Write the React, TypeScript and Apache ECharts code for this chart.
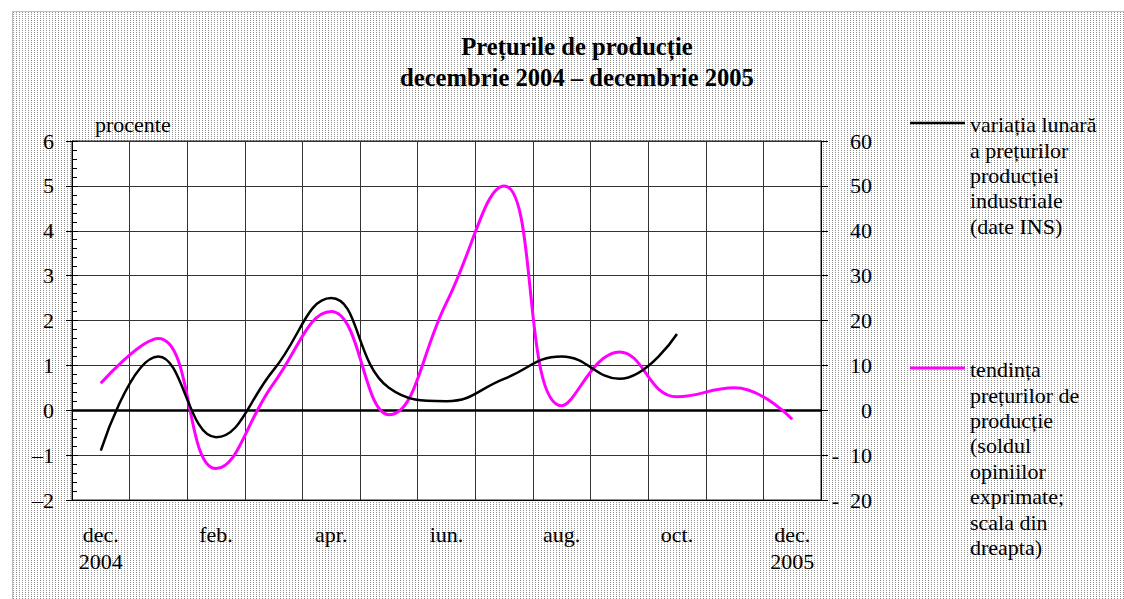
import React, { useEffect, useRef } from "react";
import * as echarts from "echarts";

const categories = ["dec.\n2004", "ian.", "feb.", "mar.", "apr.", "mai", "iun.", "iul.", "aug.", "sep.", "oct.", "nov.", "dec.\n2005"];
const monthlyVariation: (number | null)[] = [-0.9, 1.2, -0.6, 0.9, 2.5, 0.5, 0.2, 0.7, 1.2, 0.7, 1.7, null, null];
const priceTrend = [6, 16, -13, 6, 22, -1, 24, 50, 1, 13, 3, 5, -2];

const titleText = "Prețurile de producție\ndecembrie 2004 – decembrie 2005";
const unitText = "procente";
const legendBlack = "variația lunară\na prețurilor\nproducției\nindustriale\n(date INS)";
const legendPink = "tendința\nprețurilor de\nproducție\n(soldul\nopiniilor\nexprimate;\nscala din\ndreapta)";

const FONT = '"Liberation Serif", "Times New Roman", serif';
const FS = 22;

const patternSvg =
  "url(\"data:image/svg+xml,%3Csvg xmlns='http://www.w3.org/2000/svg' width='3' height='2'%3E%3Crect width='1' height='1' fill='%23909090'/%3E%3C/svg%3E\")";

export default function App() {
  const ref = useRef<HTMLDivElement>(null);
  useEffect(() => {
    if (!ref.current) return;
    const chart = echarts.init(ref.current, undefined, { renderer: "svg" });
    const axisText = { color: "#000", fontFamily: FONT, fontSize: FS };
    chart.setOption({
      animation: false,
      backgroundColor: "transparent",
      title: {
        text: titleText,
        left: 572,
        top: 26,
        textAlign: "center",
        textStyle: { fontFamily: FONT, fontSize: 24.6, fontWeight: "bold", color: "#000", lineHeight: 31 },
      },
      grid: {
        left: 72,
        right: 303,
        top: 141,
        bottom: 99,
        show: true,
        backgroundColor: "#fff",
        borderColor: "#222",
        borderWidth: 1,
        containLabel: false,
      },
      xAxis: {
        type: "category",
        data: categories,
        boundaryGap: true,
        axisLine: { show: true, onZero: false, lineStyle: { color: "#000", width: 1 } },
        axisTick: { show: false },
        splitLine: { show: true, interval: 0, lineStyle: { color: "#333", width: 1 } },
        axisLabel: { ...axisText, interval: 1, margin: 21, lineHeight: 27 },
      },
      yAxis: [
        {
          type: "value",
          position: "left",
          min: -2,
          max: 6,
          interval: 1,
          axisLine: { show: true, lineStyle: { color: "#000", width: 1 } },
          axisTick: { show: true, inside: false, length: 6, lineStyle: { color: "#000" } },
          splitLine: { show: true, lineStyle: { color: "#333", width: 1 } },
          axisLabel: {
            ...axisText,
            margin: 18,
            formatter: (v: number) => (v < 0 ? "–" + Math.abs(v) : String(v)),
          },
        },
        {
          type: "value",
          position: "right",
          min: -20,
          max: 60,
          interval: 10,
          axisLine: { show: true, lineStyle: { color: "#000", width: 1 } },
          axisTick: { show: true, inside: false, length: 7, lineStyle: { color: "#000" } },
          splitLine: { show: false },
          axisLabel: {
            ...axisText,
            align: "right",
            margin: 51,
            formatter: (v: number) => (v < 0 ? "-  " + Math.abs(v) : String(v)),
          },
        },
        {
          // overlay at the left edge carrying the small ticks that point into the plot
          type: "value",
          position: "right",
          offset: -749,
          min: -2,
          max: 6,
          interval: 1,
          axisLine: { show: false },
          axisTick: { show: true, inside: false, length: 6, lineStyle: { color: "#000" } },
          minorTick: { show: true, splitNumber: 5, length: 5, lineStyle: { color: "#000" } },
          splitLine: { show: false },
          axisLabel: { show: false },
        },
      ],
      series: [
        {
          name: "variația lunară a prețurilor producției industriale (date INS)",
          type: "line",
          yAxisIndex: 0,
          data: monthlyVariation,
          smooth: 0.45,
          symbol: "none",
          connectNulls: false,
          lineStyle: { color: "#000", width: 2.5 },
          z: 4,
          markLine: {
            silent: true,
            symbol: "none",
            label: { show: false },
            lineStyle: { color: "#000", width: 2.5, type: "solid" },
            data: [{ yAxis: 0 }],
            z: 2,
          },
        },
        {
          name: "tendința prețurilor de producție",
          type: "line",
          yAxisIndex: 1,
          data: priceTrend,
          smooth: 0.45,
          symbol: "none",
          lineStyle: { color: "#ff00ff", width: 3 },
          z: 3,
        },
      ],
      graphic: [
        {
          type: "text",
          left: 95,
          top: 113,
          style: { text: unitText, fontFamily: FONT, fontSize: FS, fill: "#000" },
        },
        {
          type: "line",
          shape: { x1: 910, y1: 123, x2: 965, y2: 123 },
          style: { stroke: "#000", lineWidth: 2.5 },
        },
        {
          type: "text",
          x: 970,
          y: 112,
          style: { text: legendBlack, fontFamily: FONT, fontSize: FS, lineHeight: 25.4, fill: "#000", verticalAlign: "top" },
        },
        {
          type: "line",
          shape: { x1: 910, y1: 368, x2: 965, y2: 368 },
          style: { stroke: "#ff00ff", lineWidth: 3 },
        },
        {
          type: "text",
          x: 970,
          y: 357,
          style: { text: legendPink, fontFamily: FONT, fontSize: FS, lineHeight: 25.4, fill: "#000", verticalAlign: "top" },
        },
      ],
    });
    return () => chart.dispose();
  }, []);

  return (
    <div style={{ position: "fixed", left: 0, top: 0, width: 1124, height: 599, background: "#fff", overflow: "hidden" }}>
      <div
        style={{
          position: "absolute",
          left: 12,
          top: 11,
          width: 1112,
          height: 588,
          borderTop: "1px solid #c0c0c0",
          borderLeft: "1px solid #c0c0c0",
          backgroundImage: patternSvg,
          backgroundRepeat: "repeat",
        }}
      />
      <div ref={ref} style={{ position: "absolute", left: 0, top: 0, width: 1124, height: 599 }} />
    </div>
  );
}
